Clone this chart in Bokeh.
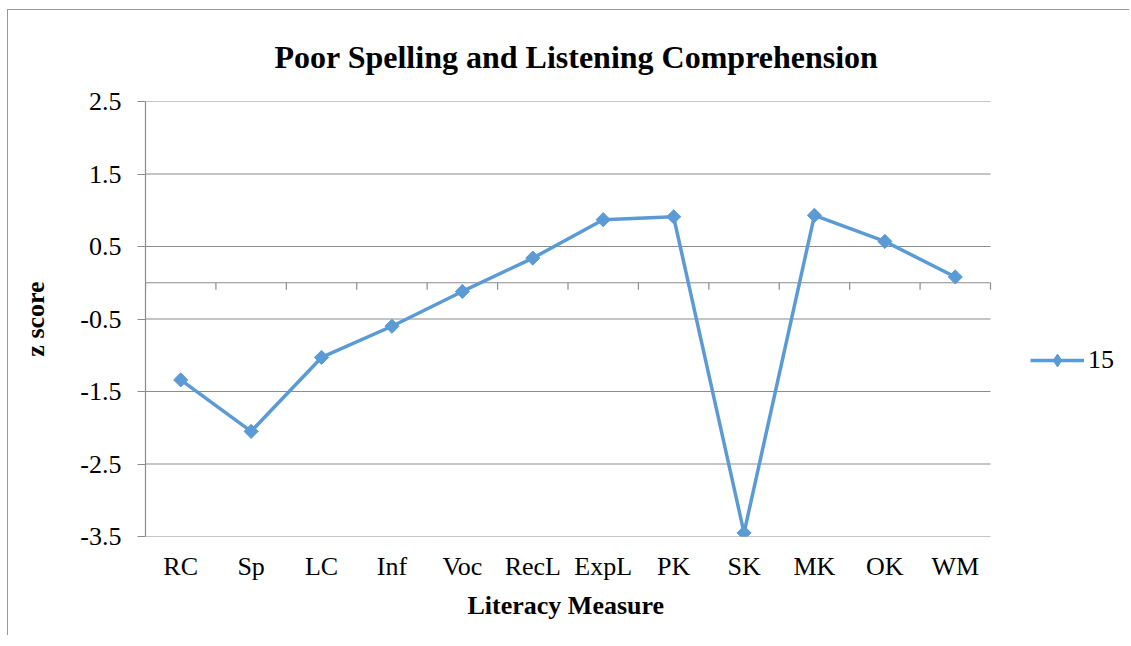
import math
from bokeh.plotting import figure
from bokeh.models import (Range1d, FixedTicker, Legend, LegendItem,
                          Title, ColumnDataSource)
from bokeh.embed import file_html
from bokeh.resources import INLINE

categories = ["RC", "Sp", "LC", "Inf", "Voc", "RecL", "ExpL", "PK", "SK", "MK", "OK", "WM"]
z_scores = [-1.34, -2.05, -1.03, -0.60, -0.12, 0.34, 0.87, 0.91, -3.45, 0.93, 0.57, 0.08]
series_name = "15"
y_ticks = [-3.5, -2.5, -1.5, -0.5, 0.5, 1.5, 2.5]

FONT = "Liberation Serif"
BLUE = "#5B9BD5"
GRID = "#8C8C8C"

n = len(categories)
x_pos = [i + 0.5 for i in range(n)]
boundaries = [float(i) for i in range(n + 1)]

# layout (pixels): plot area 845 px wide for the categories, legend area 140 px to its right
CAT_AREA_PX = 845
LEGEND_AREA_PX = 140
x_end = n + LEGEND_AREA_PX * n / CAT_AREA_PX

p = figure(width=1122, height=626, output_backend="svg", toolbar_location=None,
           x_range=Range1d(0, x_end), y_range=Range1d(-3.5, 2.5),
           min_border_left=137, min_border_right=0, min_border_top=90, min_border_bottom=100)
p.styles = {"margin-left": "7px", "margin-top": "9px",
            "border-top": "1px solid #999999", "border-left": "1px solid #999999"}

p.title = Title(text="Poor Spelling and Listening Comprehension", align="left",
                text_font=FONT, text_font_size="32px", text_font_style="bold",
                text_color="black", standoff=53, offset=129)

p.outline_line_color = None
p.background_fill_color = "white"
p.border_fill_color = "white"

# horizontal gridlines over the category area only
p.xgrid.grid_line_color = None
p.ygrid.grid_line_color = None
p.segment(x0=[0] * len(y_ticks), x1=[n] * len(y_ticks), y0=y_ticks, y1=y_ticks,
          line_color=GRID, line_width=1.2)

# y axis
yax = p.left[0]
yax.ticker = FixedTicker(ticks=y_ticks, minor_ticks=[])
yax.major_label_overrides = {t: f"{t:.1f}" for t in y_ticks}
yax.axis_line_color = GRID
yax.axis_line_width = 1.2
yax.major_tick_line_color = GRID
yax.major_tick_out = 8
yax.major_tick_in = 0
yax.minor_tick_line_color = None
yax.major_label_text_font = FONT
yax.major_label_text_font_size = "26px"
yax.major_label_text_color = "black"
yax.major_label_standoff = 16
yax.axis_label = "z score"
yax.axis_label_text_font = FONT
yax.axis_label_text_font_size = "26px"
yax.axis_label_text_font_style = "bold"
yax.axis_label_text_color = "black"
yax.axis_label_standoff = 27

# x axis (category labels)
xax = p.below[0]
xax.ticker = FixedTicker(ticks=x_pos, minor_ticks=[])
xax.major_label_overrides = {x: c for x, c in zip(x_pos, categories)}
xax.axis_line_color = None
xax.major_tick_line_color = None
xax.minor_tick_line_color = None
xax.major_label_text_font = FONT
xax.major_label_text_font_size = "26px"
xax.major_label_text_color = "black"
xax.major_label_standoff = 9

# x axis title, centred under the category area
p.add_layout(Title(text="Literacy Measure", align="left", offset=322,
                   text_font=FONT, text_font_size="26px", text_font_style="bold",
                   text_color="black", standoff=10), "below")

# horizontal axis line at zero with category tick marks
p.segment(x0=[0], x1=[n], y0=[0], y1=[0], line_color=GRID, line_width=1.2)
p.ray(x=boundaries, y=[0] * len(boundaries), length=7, length_units="screen",
      angle=-math.pi / 2, line_color=GRID, line_width=1.2)

src = ColumnDataSource(dict(x=x_pos, z=z_scores))
ln = p.line("x", "z", source=src, line_color=BLUE, line_width=3.5)
dm = p.scatter("x", "z", source=src, marker="diamond", size=12.5,
               fill_color=BLUE, line_color=BLUE)
mk = p.scatter("x", "z", source=src, marker="square", angle=math.pi / 4, size=10,
               fill_color=BLUE, line_color=BLUE)

legend = Legend(items=[LegendItem(label=series_name, renderers=[ln, dm])],
                location=(885, 160), orientation="vertical",
                label_text_font=FONT, label_text_font_size="26px", label_text_color="black",
                glyph_width=54, glyph_height=32, label_standoff=4, padding=0, margin=0,
                border_line_color=None, background_fill_alpha=0)
p.add_layout(legend, "center")

open("out.html", "w").write(file_html(p, INLINE))
